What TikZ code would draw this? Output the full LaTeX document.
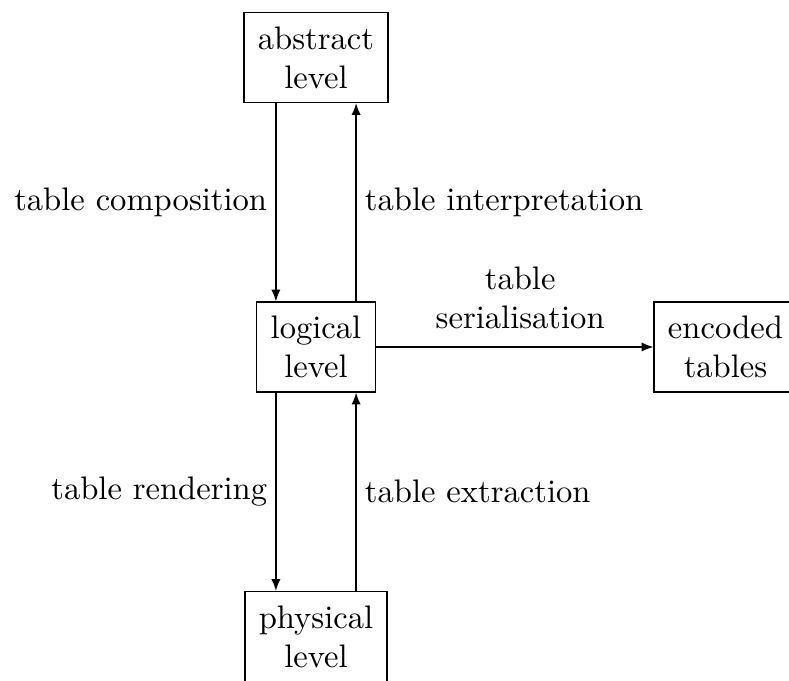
\documentclass[tikz,border=0pt]{standalone}
\usetikzlibrary{arrows.meta}
\begin{document}
\begin{tikzpicture}[x=0.30675pt, y=-0.30675pt,
  levelbox/.style={draw, align=center, inner sep=1.5mm, line width=0.4pt},
  flow/.style={-{Latex[length=3.6pt,width=2.8pt]}, line width=0.4pt},
  lbl/.style={inner xsep=2.5pt}]
  \useasboundingbox (0,0) rectangle (789,680);

  % the four levels
  \node[levelbox] (abs) at (316,57.5)   {abstract\\level};
  \node[levelbox] (log) at (316,347)    {logical\\level};
  \node[levelbox] (enc) at (725.5,347)  {encoded\\tables};
  \node[levelbox] (phy) at (316,636.5)  {physical\\level};

  % abstract <-> logical
  \draw[flow] ([xshift=-12.3pt]abs.south) -- ([xshift=-12.3pt]log.north)
    node[lbl, midway, left] {table composition};
  \draw[flow] ([xshift=12.3pt]log.north) -- ([xshift=12.3pt]abs.south)
    node[lbl, midway, right] {table interpretation};

  % logical <-> physical
  \draw[flow] ([xshift=-12.3pt]log.south) -- ([xshift=-12.3pt]phy.north)
    node[lbl, midway, left] {table rendering};
  \draw[flow] ([xshift=12.3pt]phy.north) -- ([xshift=12.3pt]log.south)
    node[lbl, midway, right] {table extraction};

  % logical -> encoded
  \draw[flow] (log.east) -- (enc.west)
    node[pos=0.52, above, align=center, yshift=1.9pt] {table\\serialisation};
\end{tikzpicture}
\end{document}
